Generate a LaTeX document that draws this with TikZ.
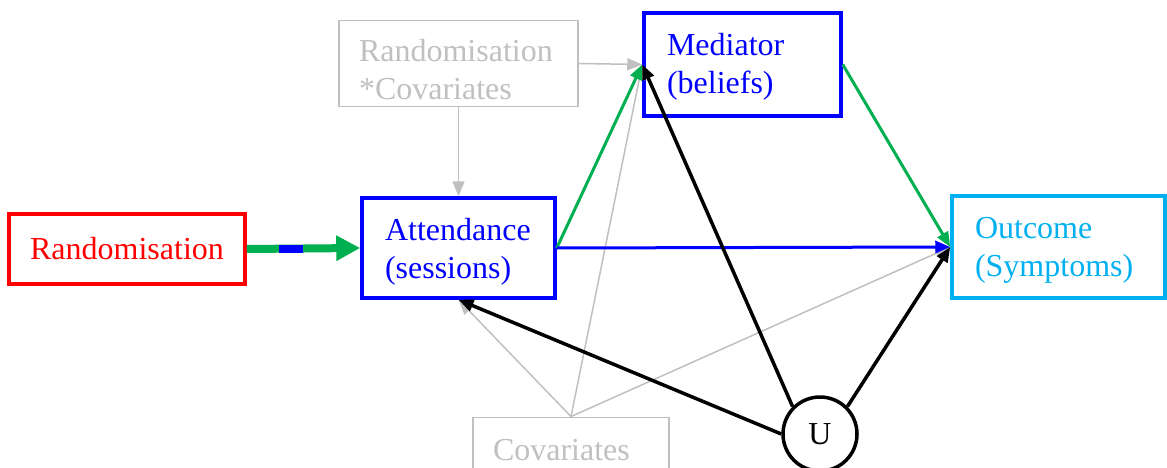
\documentclass[tikz,border=0pt]{standalone}
\usepackage{fontspec}
\setmainfont{Liberation Serif}
\usetikzlibrary{arrows.meta}
\definecolor{dgreen}{RGB}{0,176,80}
\definecolor{lgray}{RGB}{192,192,192}
\definecolor{sky}{RGB}{0,176,240}
% two-line label with a fixed first-line height and last-line depth
\newcommand{\twoline}[3]{\rule{0pt}{#3}#1\\{}#2\rule[-7pt]{0pt}{7pt}}
\begin{document}
\begin{tikzpicture}[x=1pt,y=-1pt,
  every node/.style={font=\fontsize{32}{38.4}\selectfont},
  box/.style={draw, rectangle, line width=3.5pt, inner sep=0pt, align=left},
  softbox/.style={box, draw=lgray, text=lgray, line width=1.5pt},
  tip/.style={-{Triangle[length=15pt,width=12pt]}},
  softarrow/.style={tip, draw=lgray, line width=1.5pt},
  strongarrow/.style={tip, line width=3pt},
  blackarrow/.style={tip, draw=black, line width=3.5pt}
]
\useasboundingbox (0,0) rectangle (1167,468);

% nodes
\node[box, draw=red, text=red, align=center, minimum width=236pt, minimum height=70pt]
  (rand) at (127,249) {Randomisation};
\node[box, draw=blue, text=blue, minimum width=193pt, minimum height=100pt, text width=147pt]
  (att) at (458.5,248) {\twoline{Attendance}{(sessions)}{30pt}};
\node[box, draw=blue, text=blue, minimum width=197pt, minimum height=103pt, text width=151pt]
  (med) at (742.5,64.5) {\twoline{Mediator}{(beliefs)}{27pt}};
\node[box, draw=sky, text=sky, minimum width=213pt, minimum height=102pt, text width=167pt]
  (out) at (1058.5,247) {\twoline{Outcome}{(Symptoms)}{28pt}};
\node[softbox, minimum width=239pt, minimum height=85pt, text width=199pt]
  (rc) at (458.5,63.5) {\twoline{Randomisation}{*Covariates}{41pt}};
\node[softbox, minimum width=196pt, minimum height=85pt, text width=156pt]
  (cov) at (571,461.5) {\twoline{Covariates}{}{43pt}};
\node[draw, circle, line width=3.5pt, minimum size=74pt, inner sep=0pt] (U) at (820,434) {U};

% covariate paths
\draw[softarrow] (rc.east) -- (med.west);
\draw[softarrow] (rc.south) -- (att.north);
\draw[softarrow] (cov.north) -- (att.south);
\draw[softarrow] (cov.north) -- (med.west);
\draw[softarrow] (cov.north) -- (out.west);

% randomisation to attendance
\draw[line width=8pt, draw=dgreen, -{Triangle[length=24pt,width=24pt]}] (rand.east) -- (att.west);
\coordinate (bs) at (279,249);
\coordinate (be) at (303,249);
\draw[line width=8pt, draw=blue] (bs) -- (be);

% causal paths
\draw[strongarrow, draw=dgreen] (att.east) -- (med.west);
\draw[strongarrow, draw=blue] (att.east) -- (out.west);
\draw[strongarrow, draw=dgreen] (med.east) -- (out.west);

% unmeasured confounding
\draw[blackarrow] (U.west) -- (att.south);
\draw[blackarrow] (U.135) -- (med.west);
\draw[blackarrow] (U.45) -- (out.west);
\end{tikzpicture}
\end{document}
